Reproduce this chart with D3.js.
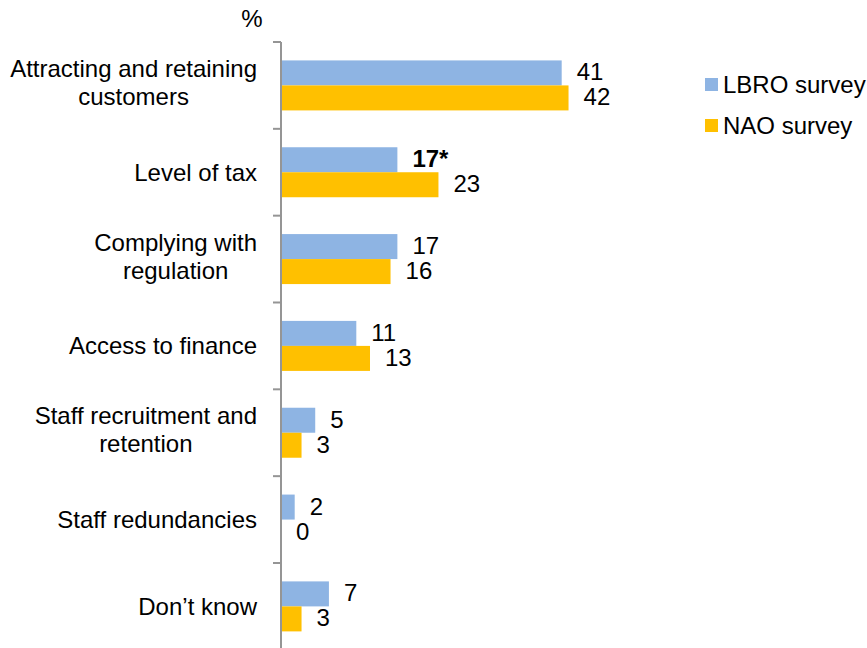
<!DOCTYPE html>
<html>
<head>
<meta charset="utf-8">
<script src="https://cdn.jsdelivr.net/npm/d3@7"></script>
<style>
  html, body { margin: 0; padding: 0; background: #fff; }
  svg { display: block; font-family: Arial, "Liberation Sans", sans-serif; }
</style>
</head>
<body>
<svg id="chart" width="867" height="648"></svg>
<script>
// Main concerns of businesses, % of respondents
const categories = [
  "Attracting and retaining customers",
  "Level of tax",
  "Complying with regulation",
  "Access to finance",
  "Staff recruitment and retention",
  "Staff redundancies",
  "Don\u2019t know"
];
const categoryLines = [
  ["Attracting and retaining", "customers"],
  ["Level of tax"],
  ["Complying with", "regulation"],
  ["Access to finance"],
  ["Staff recruitment and", "retention"],
  ["Staff redundancies"],
  ["Don\u2019t know"]
];
const seriesNames = ["LBRO survey", "NAO survey"];
const lbroValues = [41, 17, 17, 11, 5, 2, 7];
const naoValues  = [42, 23, 16, 13, 3, 0, 3];
const lbroLabels = ["41", "17*", "17", "11", "5", "2", "7"];
const naoLabels  = ["42", "23", "16", "13", "3", "0", "3"];
const colors = ["#8EB4E3", "#FFC000"];
const unitLabel = "%";

const svg = d3.select("#chart");
const fontSize = 24;

const axisX = 281;
const x = d3.scaleLinear().domain([0, 50]).range([axisX, axisX + 342.3]);
const y = d3.scaleBand().domain(categories).range([42, 42 + 86.83 * 7]).paddingInner(0).paddingOuter(0);
const barH = 25;
const sub = d3.scaleBand().domain(seriesNames).range([0, barH * 2]);

const rows = categories.map((c, i) => ({
  cat: c,
  lines: categoryLines[i],
  vals: [
    { s: seriesNames[0], v: lbroValues[i], label: lbroLabels[i], bold: lbroLabels[i].includes("*"), color: colors[0] },
    { s: seriesNames[1], v: naoValues[i], label: naoLabels[i], bold: false, color: colors[1] }
  ]
}));

// Bars
const groups = svg.append("g").selectAll("g.cat")
  .data(rows).join("g")
  .attr("class", "cat")
  .attr("transform", d => `translate(0,${y(d.cat) + (y.bandwidth() - barH * 2) / 2})`);

groups.selectAll("rect")
  .data(d => d.vals).join("rect")
  .attr("x", x(0))
  .attr("y", d => sub(d.s))
  .attr("width", d => x(d.v) - x(0))
  .attr("height", sub.bandwidth())
  .attr("fill", d => d.color);

// Value labels
groups.selectAll("text.val")
  .data(d => d.vals).join("text")
  .attr("class", "val")
  .attr("x", d => x(d.v) + 15)
  .attr("y", d => sub(d.s) + sub.bandwidth() / 2 - 1)
  .attr("dominant-baseline", "central")
  .attr("font-size", fontSize)
  .attr("font-weight", d => d.bold ? "bold" : "normal")
  .attr("fill", "#000")
  .text(d => d.label);

// Category axis (vertical line with ticks between categories)
const axis = d3.axisLeft(y).tickSize(0).tickFormat("");
const axisG = svg.append("g").attr("transform", `translate(${axisX},0)`).call(axis);
axisG.select(".domain").remove();
axisG.append("line")
  .attr("x1", 0).attr("x2", 0)
  .attr("y1", y.range()[0]).attr("y2", 648)
  .attr("stroke", "#959595").attr("stroke-width", 2);
axisG.selectAll("line.sep")
  .data(categories.slice(0, 7)).join("line")
  .attr("class", "sep")
  .attr("x1", -8).attr("x2", 0)
  .attr("y1", d => y(d)).attr("y2", d => y(d))
  .attr("stroke", "#959595").attr("stroke-width", 2);

// Category labels: right-aligned block, lines centred within it
const labelRight = 257;
const lineH = 28;
const catLabels = svg.append("g").selectAll("text.cat")
  .data(rows).join("text")
  .attr("class", "cat")
  .attr("font-size", fontSize)
  .attr("fill", "#000")
  .attr("text-anchor", "middle");

catLabels.each(function(d) {
  const t = d3.select(this);
  const n = d.lines.length;
  const cy = y(d.cat) + y.bandwidth() / 2 - (n > 1 ? 3 : 0);
  d.lines.forEach((ln, j) => {
    t.append("tspan")
      .attr("y", cy + (j - (n - 1) / 2) * lineH)
      .attr("dominant-baseline", "central")
      .text(ln);
  });
  let maxW = 0;
  t.selectAll("tspan").each(function() { maxW = Math.max(maxW, this.getComputedTextLength()); });
  t.selectAll("tspan").attr("x", labelRight - maxW / 2);
});

// Unit label
svg.append("text")
  .attr("x", 252).attr("y", 27)
  .attr("text-anchor", "middle")
  .attr("font-size", fontSize)
  .attr("fill", "#000")
  .text(unitLabel);

// Legend
const legend = svg.append("g").selectAll("g.leg")
  .data(seriesNames).join("g")
  .attr("class", "leg")
  .attr("transform", (d, i) => `translate(705,${78 + i * 41})`);
legend.append("rect")
  .attr("width", 13).attr("height", 13)
  .attr("fill", (d, i) => colors[i]);
legend.append("text")
  .attr("x", 18).attr("y", 6.5)
  .attr("dominant-baseline", "central")
  .attr("font-size", fontSize)
  .attr("fill", "#000")
  .text(d => d);
</script>
</body>
</html>
